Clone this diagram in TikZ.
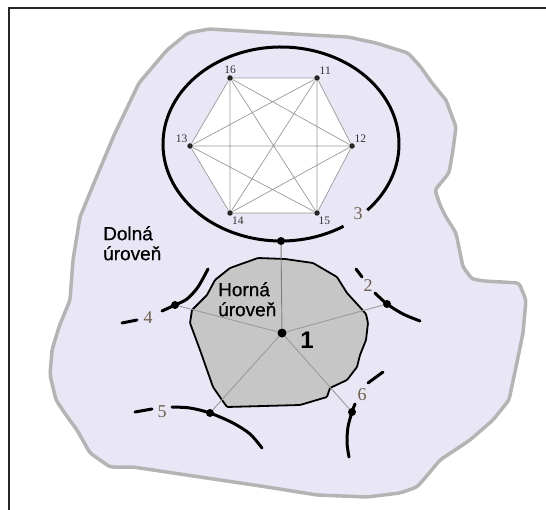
\documentclass[tikz,border=0pt]{standalone}
\usepackage{fontspec}
\setmainfont{Liberation Serif}
\setsansfont{Liberation Sans}
\newfontfamily\levfont[FakeBold=0.6]{Liberation Sans}
\usetikzlibrary{positioning}
\definecolor{lowlev}{HTML}{E9E7F5}
\definecolor{lowedge}{HTML}{B4B4B4}
\definecolor{uplev}{HTML}{C6C6C6}
\definecolor{spokegray}{HTML}{9A9A9A}
\definecolor{numbrown}{HTML}{6E5E50}
\tikzset{
  dot/.style={circle, fill=black, inner sep=0pt, minimum size=8pt},
  hdot/.style={circle, fill=black!85, inner sep=0pt, minimum size=5.5pt},
  hlab/.style={font=\fontsize{11.5}{11.5}\selectfont, text=black!80, inner sep=1pt},
  bnd/.style={line width=3pt, line cap=round},
  spoke/.style={draw=spokegray, line width=0.9pt},
  kedge/.style={draw=black!40, line width=0.7pt},
  num/.style={font=\fontsize{18}{18}\selectfont, text=numbrown, inner sep=0pt},
  lev/.style={font=\levfont\fontsize{19}{20}\selectfont, align=left, inner sep=0pt}
}

\begin{document}
\begin{tikzpicture}[x=1pt, y=-1pt]
  \useasboundingbox (0,0) rectangle (546,510);
  \draw[black!85, line width=1.5pt] (9,510) -- (9,8) -- (546,8);
  \draw[fill=lowlev, draw=lowedge, line width=3.5pt, rounded corners=3pt]
    (188,33) -- (209,29) -- (260,32) -- (310,35) -- (348,37) -- (376,43) -- (408,53) -- (420,66)
    -- (432,83) -- (446,100) -- (456,127) -- (453,150) -- (449,173) -- (435,190) -- (440,205)
    -- (446,217) -- (456,233) -- (463,267) -- (472,279) -- (484,281) -- (519,283) -- (526,300)
    -- (523,333) -- (516,367) -- (509,400) -- (493,420) -- (470,440) -- (440,460) -- (425,478)
    -- (417,487) -- (400,493) -- (367,497) -- (317,495) -- (267,487) -- (200,477) -- (133,467)
    -- (110,467) -- (90,453) -- (77,430) -- (66,415) -- (56,400) -- (50,375) -- (52,350)
    -- (59,327) -- (70,300) -- (73,260) -- (80,217) -- (94,183) -- (115,133) -- (139,83)
    -- (167,50) -- cycle;
  \fill[white] (230,78) -- (317,78) -- (352,146) -- (317,213) -- (230,213) -- (190,146) -- cycle;
  \draw[line width=3pt] (281,144) ++(58:118 and 97) arc[start angle=58, end angle=403, x radius=118, y radius=97];

  \node[hdot, label={[hlab]above:16}] (n16) at (230,78) {};
  \node[hdot, label={[hlab]60:11}] (n11) at (317,78) {};
  \node[hdot, label={[hlab]60:12}] (n12) at (352,146) {};
  \node[hdot, label={[hlab]-80:15}] (n15) at (317,213) {};
  \node[hdot, label={[hlab]-70:14}] (n14) at (230,213) {};
  \node[hdot, label={[hlab]120:13}] (n13) at (190,146) {};
  \draw[kedge] (n16) -- (n11) -- (n12) -- (n15) -- (n14) -- (n13) -- (n16)
    (n16) -- (n12) (n16) -- (n15) (n16) -- (n14)
    (n11) -- (n13) (n11) -- (n14) (n11) -- (n15)
    (n13) -- (n12) (n13) -- (n15) (n14) -- (n12);

  \draw[fill=uplev, line width=1.8pt, rounded corners=1pt]
    (230,268) -- (258,258) -- (285,259) -- (313,263) -- (337,277) -- (347,293) -- (358,305)
    -- (366,314) -- (368,323) -- (366,340) -- (360,355) -- (357,367) -- (347,380) -- (330,388)
    -- (327,397) -- (300,405) -- (227,407) -- (222,400) -- (213,387) -- (200,350) -- (190,323)
    -- (192,310) -- (207,295) -- (215,280) -- cycle;

  \node[dot, minimum size=9pt] (c1) at (282,333) {};
  \node[dot] (d3) at (281,241) {};
  \node[dot] (d2) at (387,304) {};
  \node[dot] (d4) at (175,305) {};
  \node[dot] (d5) at (210,413) {};
  \node[dot] (d6) at (352,412) {};
  \draw[spoke, draw=black!50] (c1) -- (d3);
  \draw[spoke] (c1) -- (d2);
  \draw[spoke] (c1) -- (d4);
  \draw[spoke] (c1) -- (d5);
  \draw[spoke] (c1) -- (d6);

  \draw[bnd] plot[smooth] coordinates {(208,269) (198,287) (187,299) (175,305) (162,311)};
  \draw[bnd] (122,323) -- (137,320);
  \draw[bnd] (356,269) -- (362,277);
  \draw[bnd] plot[smooth] coordinates {(375,293) (387,304) (403,314) (420,321)};
  \draw[bnd] (135,412) -- (152,409);
  \draw[bnd] plot[smooth] coordinates {(172,407) (190,408) (210,413) (233,423) (250,434) (262,448)};
  \draw[bnd] (368,383) -- (383,372);
  \draw[bnd] plot[smooth] coordinates {(355,404) (352,412) (348,427) (347,443) (349,457)};

  \node[num] (l3) at (358,214) {3};
  \node[num] (l2) at (368,286) {2};
  \node[num] (l4) at (148,318) {4};
  \node[num] (l5) at (162,412) {5};
  \node[num] (l6) at (362,395) {6};
  \node[font=\sffamily\bfseries\fontsize{24}{24}\selectfont, inner sep=0pt] (l1) at (307,340) {1};
  \node[lev, anchor=north west] (dolna) at (103,226) {Dolná\\úroveň};
  \node[lev, anchor=north west] (horna) at (218,282) {Horná\\úroveň};
\end{tikzpicture}
\end{document}
